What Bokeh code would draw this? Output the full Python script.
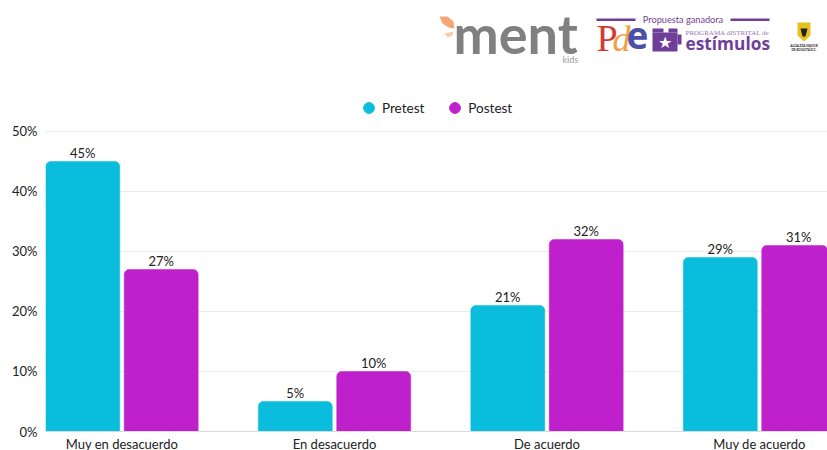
from bokeh.plotting import figure
from bokeh.embed import file_html
from bokeh.resources import INLINE
from bokeh.models import (ColumnDataSource, FixedTicker, Range1d, Legend, LegendItem, Label,
                          BoxAnnotation, PolyAnnotation)
from bokeh.core.properties import value

categories = ["Muy en desacuerdo", "En desacuerdo", "De acuerdo", "Muy de acuerdo"]
pretest = [45, 5, 21, 29]
postest = [27, 10, 32, 31]
y_ticks = [0, 10, 20, 30, 40, 50]

BLUE = "#0BBDDD"
PURPLE = "#BE21CC"
FONT = "Lato"
W, H = 827, 454
FRAME_LEFT, FRAME_BOTTOM = 45, 431
idx = list(range(len(categories)))

p = figure(width=W, height=H, output_backend="svg", toolbar_location=None,
           x_range=Range1d(-0.36, 3.32), y_range=Range1d(0, 71.83),
           min_border_left=FRAME_LEFT, min_border_right=0, min_border_top=0, min_border_bottom=19)
p.outline_line_color = None
p.background_fill_color = "white"

src_a = ColumnDataSource(dict(x=[i - 0.1845 for i in idx], top=pretest, lab=[f"{v}%" for v in pretest]))
src_b = ColumnDataSource(dict(x=[i + 0.1845 for i in idx], top=postest, lab=[f"{v}%" for v in postest]))
for s, c in ((src_a, BLUE), (src_b, PURPLE)):
    p.vbar(x="x", top="top", bottom=0, width=0.348, source=s, fill_color=c, line_color=c,
           line_width=0.5, border_radius=(5, 5, 0, 0))
    p.text(x="x", y="top", text="lab", source=s, text_align="center", text_baseline="bottom",
           text_font=value(FONT), text_font_size="13px", text_color="#222222", y_offset=0)

# Legend: empty circle renderers give the round keys
ra = p.circle(x=[float("nan")], y=[float("nan")], radius=1, color=BLUE)
rb = p.circle(x=[float("nan")], y=[float("nan")], radius=1, color=PURPLE)
leg = Legend(items=[LegendItem(label="Pretest", renderers=[ra]), LegendItem(label="Postest", renderers=[rb])],
             location=(310, 310), orientation="horizontal", glyph_width=27, glyph_height=27,
             label_standoff=0, spacing=17, margin=0, padding=0, background_fill_alpha=0,
             border_line_color=None, label_text_font=FONT, label_text_font_size="13.5px",
             label_text_color="#222222")
p.add_layout(leg, "center")

# Axes
p.xaxis.ticker = FixedTicker(ticks=idx)
p.xaxis.major_label_overrides = {i: c for i, c in zip(idx, categories)}
p.xaxis.major_tick_line_color = None
p.xaxis.minor_tick_line_color = None
p.xaxis.major_tick_out = 0
p.xaxis.axis_line_color = "#d9d9d9"
p.xaxis.major_label_standoff = 4
p.xaxis.major_label_text_font = FONT
p.xaxis.major_label_text_font_size = "13px"
p.xaxis.major_label_text_color = "#222222"
p.xgrid.visible = False

p.yaxis.ticker = FixedTicker(ticks=y_ticks)
p.yaxis.major_label_overrides = {v: f"{v}%" for v in y_ticks}
p.yaxis.axis_line_color = None
p.yaxis.major_tick_line_color = None
p.yaxis.minor_tick_line_color = None
p.yaxis.major_tick_out = 0
p.yaxis.major_label_standoff = 8
p.yaxis.major_label_text_font = FONT
p.yaxis.major_label_text_font_size = "13px"
p.yaxis.major_label_text_color = "#222222"
p.ygrid.grid_line_color = "#ececec"
p.ygrid.ticker = FixedTicker(ticks=y_ticks)


# Logo strip: positions given as page pixels, converted to the frame-based screen units
def sx(px):
    return px - FRAME_LEFT
def sy(py):
    return FRAME_BOTTOM - py

def lab(text, px, py, size, color, font=FONT, style="normal", align="left"):
    p.add_layout(Label(x=sx(px), y=sy(py), x_units="screen", y_units="screen", text=text,
                       text_font=font, text_font_size=f"{size}px", text_color=color,
                       text_font_style=style, text_align=align, text_baseline="middle"))

def box(l, t, r, b, color):
    p.add_layout(BoxAnnotation(left=sx(l), right=sx(r), top=sy(t), bottom=sy(b),
                               left_units="screen", right_units="screen", top_units="screen",
                               bottom_units="screen", fill_color=color, fill_alpha=1, line_color=None))

def poly(pts, color):
    p.add_layout(PolyAnnotation(xs=[sx(a) for a, _ in pts], ys=[sy(b) for _, b in pts],
                                xs_units="screen", ys_units="screen", fill_color=color,
                                fill_alpha=1, line_color=None))

poly([(439, 16), (447, 16), (453, 21), (454, 28), (448, 27), (442, 23)], "#F5A873")
poly([(444, 33), (453, 31), (452, 35), (447, 37)], "#F9CBA8")
lab("ment", 453, 33, 54, "#808080", style="bold")
lab("kids", 562, 59, 9, "#9a9a9a")

PUR = "#6F3E98"
box(596, 18, 635, 20.5, PUR)
box(730, 18, 769, 20.5, PUR)
lab("Propuesta ganadora", 682.5, 19, 9.2, PUR, align="center")
lab("P", 596, 37, 38, "#D43A33", font="Liberation Serif")
lab("d", 612, 38, 36, "#F0A040", font="Liberation Serif", style="italic")
lab("e", 626, 35, 37, "#4B4FA8", font="Open Sans", style="bold")
box(652, 32, 677, 51, PUR)
box(652, 28, 663, 32, PUR)
box(668, 28, 677, 32, PUR)
box(677, 34, 681, 44, PUR)
lab("★", 664.5, 41, 16, "white", align="center")
lab("PROGRAMA dISTRITAL de", 685, 32, 7, "#9A72B8", font="Liberation Serif")
lab("estímulos", 685, 43, 17.3, PUR, font="Open Sans", style="bold")

poly([(797, 22), (810, 22), (810, 35), (803.5, 41), (797, 35)], "#E8C020")
poly([(800, 28), (807, 28), (805, 36), (802, 36)], "#222222")
lab("ALCALDÍA MAYOR", 803.5, 45, 3.2, "#222222", style="bold", align="center")
lab("DE BOGOTÁ D.C.", 803.5, 49, 3.2, "#222222", style="bold", align="center")

open("out.html", "w").write(file_html(p, INLINE))
